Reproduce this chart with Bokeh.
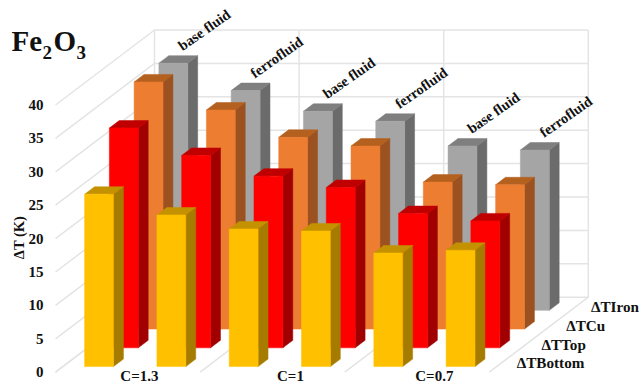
from math import radians

from bokeh.core.properties import value
from bokeh.embed import file_html
from bokeh.models import FixedTicker
from bokeh.plotting import figure
from bokeh.resources import INLINE

# Temperature differences per configuration, one list per thermocouple row
configs = ["base fluid", "ferrofluid", "base fluid", "ferrofluid", "base fluid", "ferrofluid"]
dt_bottom = [25.8, 22.7, 20.6, 20.3, 17.0, 17.4]
dt_top = [32.9, 28.8, 25.7, 24.0, 20.1, 19.0]
dt_cu = [37.0, 32.8, 28.7, 27.4, 22.0, 21.6]
dt_iron = [37.0, 32.9, 29.8, 28.3, 24.6, 24.0]

row_names = ["\u0394TBottom", "\u0394TTop", "\u0394TCu", "\u0394TIron"]
rows = [dt_bottom, dt_top, dt_cu, dt_iron]
face_colors = ["#FFC000", "#FF0000", "#ED7D31", "#A5A5A5"]
top_colors = ["#C49200", "#C00000", "#B4601F", "#7F7F7F"]
side_colors = ["#A67C00", "#A00000", "#9B5220", "#6B6B6B"]

concentration_labels = ["C=1.3", "C=1", "C=0.7"]
concentration_positions = [1.16, 3.25, 5.24]
y_ticks = [0, 5, 10, 15, 20, 25, 30, 35, 40]

FONT = value("Liberation Serif")
GRID = "#E4E4E4"
INK = "#111111"

# Oblique projection: one unit of depth shifts right by DX categories and up the value axis by DY
DX = 99 / 72.3
DY = 75 / 6.68
CATS = 6
TOP = 40


def proj(cat, depth, val):
    return cat + DX * depth, val + DY * depth


def quad(*corners):
    pts = [proj(*c) for c in corners]
    return [p[0] for p in pts], [p[1] for p in pts]


def px(x):
    return (x - 55) / 72.3


def py(y):
    return (371.7 - y) / 6.68


p = figure(
    width=639,
    height=385,
    output_backend="svg",
    toolbar_location=None,
    x_range=(px(0), px(639)),
    y_range=(py(385), py(0)),
    min_border_left=0,
    min_border_right=0,
    min_border_top=0,
    min_border_bottom=0,
    outline_line_color=None,
    background_fill_color="white",
    border_fill_color="white",
)
p.xaxis.visible = False
p.xgrid.visible = False
p.ygrid.visible = False

# The value axis stands inside the frame, left of the floor's front corner
ax = p.yaxis[0]
ax.fixed_location = px(46)
ax.ticker = FixedTicker(ticks=y_ticks)
ax.axis_line_color = None
ax.major_tick_line_color = None
ax.minor_tick_line_color = None
ax.major_tick_in = 0
ax.major_tick_out = 0
ax.major_label_standoff = 3
ax.major_label_text_font = "Liberation Serif"
ax.major_label_text_font_style = "bold"
ax.major_label_text_font_size = "15px"
ax.major_label_text_color = INK

# Walls and floor: horizontal rules on the left and back walls, every second category elsewhere
for t in y_ticks:
    xs, ys = quad((0, 0, t), (0, 1, t), (CATS, 1, t))
    p.line(xs, ys, line_color=GRID, line_width=1.5)
for c in range(0, CATS + 1, 2):
    xs, ys = quad((c, 0, 0), (c, 1, 0), (c, 1, TOP))
    p.line(xs, ys, line_color=GRID, line_width=1.5)

# Bars, painted from the back row to the front row
for k in (3, 2, 1, 0):
    d0, d1 = (k + 0.3) / 4, (k + 0.7) / 4
    front, top, side = ([], []), ([], []), ([], [])
    for i, v in enumerate(rows[k]):
        c0, c1 = i + 0.3, i + 0.7
        for bucket, q in (
            (front, quad((c0, d0, 0), (c1, d0, 0), (c1, d0, v), (c0, d0, v))),
            (top, quad((c0, d0, v), (c1, d0, v), (c1, d1, v), (c0, d1, v))),
            (side, quad((c1, d0, 0), (c1, d1, 0), (c1, d1, v), (c1, d0, v))),
        ):
            bucket[0].append(q[0])
            bucket[1].append(q[1])
    for (xs, ys), col in ((side, side_colors[k]), (top, top_colors[k]), (front, face_colors[k])):
        p.patches(xs, ys, fill_color=col, line_color=col, line_width=0.5)

# Configuration names float above the rearmost row
lx, ly = [], []
for i, v in enumerate(dt_iron):
    x, y = proj(i + 0.5, 3.5 / 4, v)
    lx.append(x)
    ly.append(y)
p.text(
    lx, ly, text=configs, angle=radians(35), x_offset=26, y_offset=-29.5,
    text_align="center", text_baseline="middle", text_font=FONT,
    text_font_style="bold", text_font_size="14.5px", text_color=INK,
)

# Concentration labels along the front edge
p.text(
    concentration_positions, [py(375)] * 3, text=concentration_labels,
    text_align="center", text_baseline="middle", text_font=FONT,
    text_font_style="bold", text_font_size="15px", text_color=INK,
)

# Row names beside the floor's right edge
nx, ny = [], []
for k in range(4):
    x, y = proj(CATS, (k + 0.5) / 4, 0)
    nx.append(x)
    ny.append(y)
p.text(
    nx, ny, text=row_names, x_offset=15,
    text_align="left", text_baseline="middle", text_font=FONT,
    text_font_style="bold", text_font_size="15.2px", text_color=INK,
)

# Compound name, assembled from runs so the subscripts sit lower and smaller
for txt, x, y, size in (("Fe", 11, 40, 29), ("2", 42, 52, 19), ("O", 53, 40, 29), ("3", 76, 52, 19)):
    p.text(
        [px(x)], [py(y)], text=[txt], text_font=FONT, text_font_style="bold",
        text_font_size=f"{size}px", text_color=INK,
        text_align="left", text_baseline="alphabetic",
    )

p.text(
    [px(18)], [py(237)], text=["\u0394T (K)"], angle=radians(90),
    text_font=FONT, text_font_style="bold", text_font_size="14.5px",
    text_color=INK, text_align="center", text_baseline="middle",
)

open("out.html", "w").write(file_html(p, INLINE))
